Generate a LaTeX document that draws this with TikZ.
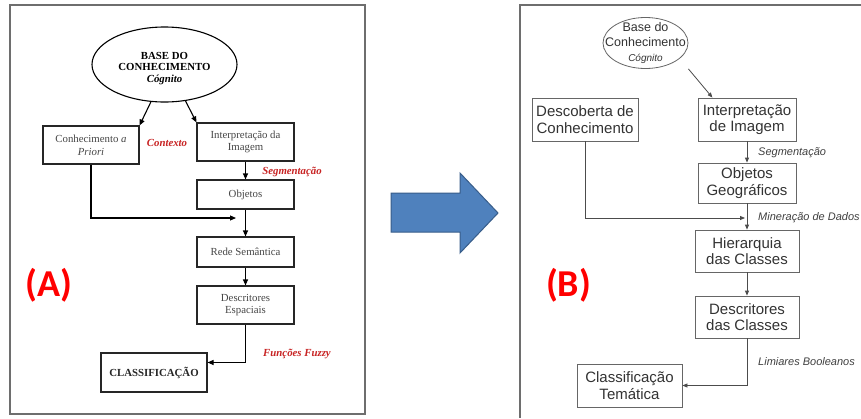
\documentclass[tikz,border=0pt]{standalone}
\usepackage{fontspec}
\setmainfont{Liberation Serif}
\newfontfamily\arialf{Liberation Sans}
\newfontfamily\calibrif{Carlito}
\usetikzlibrary{shapes.geometric,arrows.meta,calc}
\definecolor{lblred}{RGB}{200,35,35}
\definecolor{bigred}{RGB}{255,0,0}
\definecolor{arrblue}{RGB}{79,129,189}
\definecolor{arrblueb}{RGB}{56,93,138}
\definecolor{txtgray}{RGB}{70,70,70}
\definecolor{framegray}{RGB}{110,110,110}
\begin{document}
\begin{tikzpicture}[x=1pt,y=-1pt,
  abox/.style={draw=black!85,line width=1.1pt,minimum width=97pt,minimum height=#1,inner sep=0pt,align=center,font=\fontsize{10.8}{12.8}\selectfont,text=txtgray},
  arrA/.style={-{Triangle[length=6pt,width=5pt]},line width=1.1pt,draw=black},
  lblA/.style={font=\fontsize{10.8}{12}\selectfont\bfseries\itshape,text=lblred},
  bbox/.style={draw=black!60,line width=0.8pt,minimum width=#1,inner sep=0pt,align=center,font=\arialf\fontsize{15}{16.5}\selectfont,text=black!80},
  arrB/.style={-{Triangle[length=5pt,width=4pt]},line width=0.8pt,draw=black!70},
  lblB/.style={font=\arialf\itshape\fontsize{11}{13}\selectfont,text=black!75,anchor=west,inner sep=1pt},
  biglbl/.style={font=\calibrif\bfseries\fontsize{38}{40}\selectfont,text=bigred}
]
\useasboundingbox (0,0) rectangle (861,418);
\fill[white] (0,0) rectangle (861,418);

% ---------- Panel A ----------
\draw[framegray,line width=1.6pt] (10,5) rectangle (365,414);

\node[ellipse,draw,line width=1.1pt,minimum width=145pt,minimum height=75pt,inner sep=0pt] (ellA) at (164.5,64.5) {};
\node[align=center,font=\fontsize{10.8}{11.8}\selectfont\bfseries,inner sep=0pt] (ellAtxt) at (164.5,68.5) {BASE DO\\CONHECIMENTO\\\textit{Cógnito}};

\node[abox=38pt,minimum width=96pt] (priA) at (91,145) {Conhecimento \textit{a}\\\textit{Priori}};
\node[abox=38pt] (intA) at (245.5,142) {Interpretação da\\Imagem};
\node[abox=29pt] (objA) at (245.5,194.5) {Objetos};
\node[abox=30pt] (redA) at (245.5,252) {Rede Semântica};
\node[abox=38pt] (dscA) at (245.5,305) {Descritores\\Espaciais};
\node[abox=39pt,minimum width=106pt,font=\fontsize{10.8}{12.8}\selectfont\bfseries,text=black!85] (claA) at (154,372.5) {CLASSIFICAÇÃO};

\draw[arrA] (ellA.250) -- (priA.north east);
\draw[arrA] (ellA.300) -- (intA.north west);
\draw[arrA] (intA) -- (objA);
\draw[arrA] (objA) -- (redA);
\draw[arrA] (redA) -- (dscA);
\coordinate (mA) at (236,218);
\draw[arrA] (priA.south) |- (mA);
\draw[arrA] (dscA.south) |- ($(claA.north east)!0.25!(claA.south east)$);

\node[lblA] (ctxA) at (167,143) {Contexto};
\node[lblA] (segA) at (292,172) {Segmentação};
\node[lblA] (fuzA) at (297,354) {Funções Fuzzy};

\node[biglbl] (labA) at (49,285) {(A)};

% ---------- Big arrow ----------
\filldraw[fill=arrblue,draw=arrblueb,line width=1pt] (391,193) -- (460,193) -- (460,173) -- (498,213) -- (460,253) -- (460,232) -- (391,232) -- cycle;

% ---------- Panel B ----------
\draw[framegray,line width=1.4pt] (861,5) -- (520,5) -- (520,418);

\node[ellipse,draw=black!60,line width=0.8pt,minimum width=85pt,minimum height=51pt,inner sep=0pt] (ellB) at (645.5,43) {};
\node[align=center,font=\arialf\fontsize{12.5}{15}\selectfont,text=black!80,inner sep=0pt] (ellBtxt) at (645.5,43.5) {Base do\\Conhecimento\\{\fontsize{10}{12}\selectfont\itshape Cógnito}};
\coordinate (ellBc) at (ellB.east |- ellB.south);

\node[bbox=106pt,minimum height=43pt] (desB) at (585,119.5) {Descoberta de\\Conhecimento};
\node[bbox=98pt,minimum height=43pt] (intB) at (747,119.5) {Interpretação\\de Imagem};
\node[bbox=98pt,minimum height=40pt] (objB) at (747,183) {Objetos\\Geográficos};
\node[bbox=104pt,minimum height=42pt] (hieB) at (747,251) {Hierarquia\\das Classes};
\node[bbox=104pt,minimum height=42pt] (dscB) at (747,317) {Descritores\\das Classes};
\node[bbox=105pt,minimum height=43pt] (claB) at (629.5,385.5) {Classificação\\Temática};

\draw[arrB] (ellBc) -- ($(intB.north west)!0.15!(intB.north east)$);
\draw[arrB] (intB) -- (objB);
\coordinate (mB) at (745,218);
\draw[arrB] (desB.south) |- (mB);
\draw[arrB] (objB) -- (hieB);
\draw[arrB] (hieB) -- (dscB);
\draw[arrB] (dscB.south) |- (claB.east);

\node[lblB] (segB) at (757,153) {Segmentação};
\node[lblB] (minB) at (757,218) {Mineração de Dados};
\node[lblB] (limB) at (757,362) {Limiares Booleanos};

\node[biglbl] (labB) at (568.5,285) {(B)};
\end{tikzpicture}
\end{document}
